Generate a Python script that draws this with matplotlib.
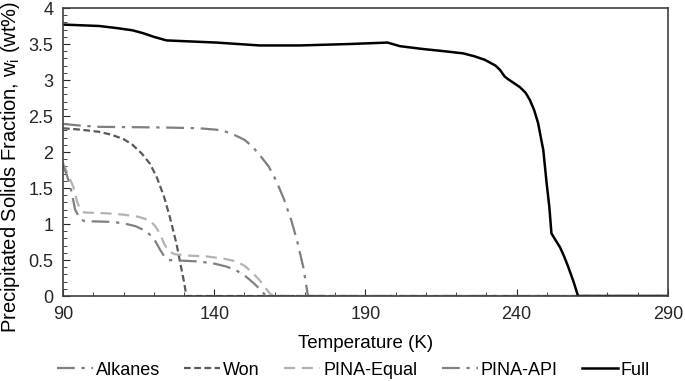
import numpy as np
import matplotlib
matplotlib.use('Agg')
import matplotlib.pyplot as plt
import matplotlib.ticker as ticker

plt.rcParams['font.family'] = ['Liberation Sans', 'DejaVu Sans']

# Temperature (K) / precipitated solids (wt%) per model
T_alk = [90, 95, 102, 124, 135, 140.7, 144, 147, 150, 152.5, 155, 158, 160.5, 163, 165.5, 167.5, 169.4, 170.3, 171.0, 290]
w_alk = [2.39, 2.37, 2.35, 2.34, 2.33, 2.31, 2.28, 2.23, 2.17, 2.08, 1.96, 1.80, 1.60, 1.35, 1.05, 0.75, 0.41, 0.18, 0.0, 0.0]

T_won = [90, 96, 102, 106, 110, 113, 116, 118.7, 121, 123.4, 125.3, 127.5, 128.8, 130, 130.8, 290]
w_won = [2.33, 2.31, 2.28, 2.24, 2.18, 2.10, 1.98, 1.84, 1.65, 1.38, 1.10, 0.73, 0.45, 0.20, 0.0, 0.0]

T_equal = [90, 91.5, 93.4, 94.7, 95.8, 97, 104, 110, 115, 118.7, 120.5, 122, 123.5, 125, 127, 132,
           137.5, 143, 147.5, 150, 152.5, 155, 156.8, 158.3, 159.5, 290]
w_equal = [1.85, 1.70, 1.52, 1.30, 1.20, 1.16, 1.15, 1.13, 1.10, 1.05, 0.97, 0.87, 0.72, 0.62, 0.58, 0.56,
           0.55, 0.52, 0.48, 0.42, 0.33, 0.22, 0.12, 0.04, 0.0, 0.0]

T_api = [90, 91.5, 92.8, 94, 95.5, 97, 106, 110, 114, 117.5, 120, 122, 123.5, 125, 130, 135,
         140, 144, 147.5, 150.5, 153, 155, 156.5, 157.3, 290]
w_api = [1.82, 1.65, 1.45, 1.20, 1.08, 1.04, 1.03, 1.01, 0.97, 0.90, 0.80, 0.65, 0.55, 0.50, 0.49, 0.48,
         0.45, 0.41, 0.35, 0.27, 0.18, 0.10, 0.03, 0.0, 0.0]

T_full = [90, 102, 108, 113, 116.5, 120, 124.2, 140.7, 155, 168.3, 184.8, 197.3, 201.4, 209.1, 216, 222.3,
          226, 229.5, 233, 234.5, 236, 237.2, 239, 241.1, 243, 244.4, 245.8, 247.1, 248, 248.8, 249.9, 250.8,
          251.5, 252.8, 254.3, 255.7, 257.0, 258.8, 260.3, 290]
w_full = [3.77, 3.75, 3.72, 3.69, 3.65, 3.60, 3.55, 3.52, 3.48, 3.48, 3.50, 3.52, 3.47, 3.43, 3.40, 3.37,
          3.33, 3.28, 3.20, 3.14, 3.05, 3.01, 2.96, 2.90, 2.82, 2.72, 2.58, 2.40, 2.20, 2.03, 1.57, 1.24,
          0.87, 0.78, 0.68, 0.55, 0.41, 0.20, 0.0, 0.0]

xticks = [90, 140, 190, 240, 290]

fig, ax = plt.subplots(figsize=(6.85, 3.81), dpi=100)
fig.subplots_adjust(left=0.092, right=0.975, top=0.979, bottom=0.223)

dashdot = (0, (8, 3, 1.5, 3))
ax.plot(T_alk, w_alk, color='#7f7f7f', lw=1.6, ls=dashdot, label='Alkanes')
ax.plot(T_won, w_won, color='#595959', lw=1.6, ls=(0, (3, 1.6)), label='Won')
ax.plot(T_equal, w_equal, color='#b3b3b3', lw=1.6, ls=(0, (5, 3)), label='PINA-Equal')
ax.plot(T_api, w_api, color='#808080', lw=1.6, ls=dashdot, label='PINA-API')
ax.plot(T_full, w_full, color='black', lw=1.8, label='Full')

ax.set_xlim(90, 290)
ax.set_ylim(0, 4)
ax.xaxis.set_major_locator(ticker.FixedLocator(xticks))
ax.xaxis.set_minor_locator(ticker.MultipleLocator(10))
ax.yaxis.set_major_locator(ticker.MultipleLocator(0.5))
ax.yaxis.set_minor_locator(ticker.MultipleLocator(0.1))
ax.yaxis.set_major_formatter(ticker.FuncFormatter(lambda v, p: '{:g}'.format(v)))
ax.tick_params(which='both', direction='in', labelsize=13, colors='#262626', pad=7)
ax.tick_params(which='major', length=5)
ax.tick_params(which='minor', length=3)
for s in ax.spines.values():
    s.set_color('#404040')
    s.set_linewidth(1.2)

ax.set_xlabel('Temperature (K)', fontsize=13.5)
ax.xaxis.set_label_coords(0.5, -0.135)
ax.set_ylabel(r'Precipitated Solids Fraction, w$_\mathregular{i}$ (wt%)', fontsize=14.5)
ax.yaxis.set_label_coords(-0.068, 0.448)

ax.legend(loc='center', bbox_to_anchor=(0.48, -0.257), ncol=5, frameon=False,
          fontsize=13, handlelength=2.0, handletextpad=0.15, columnspacing=1.35)

plt.savefig('out.png', dpi=100)
